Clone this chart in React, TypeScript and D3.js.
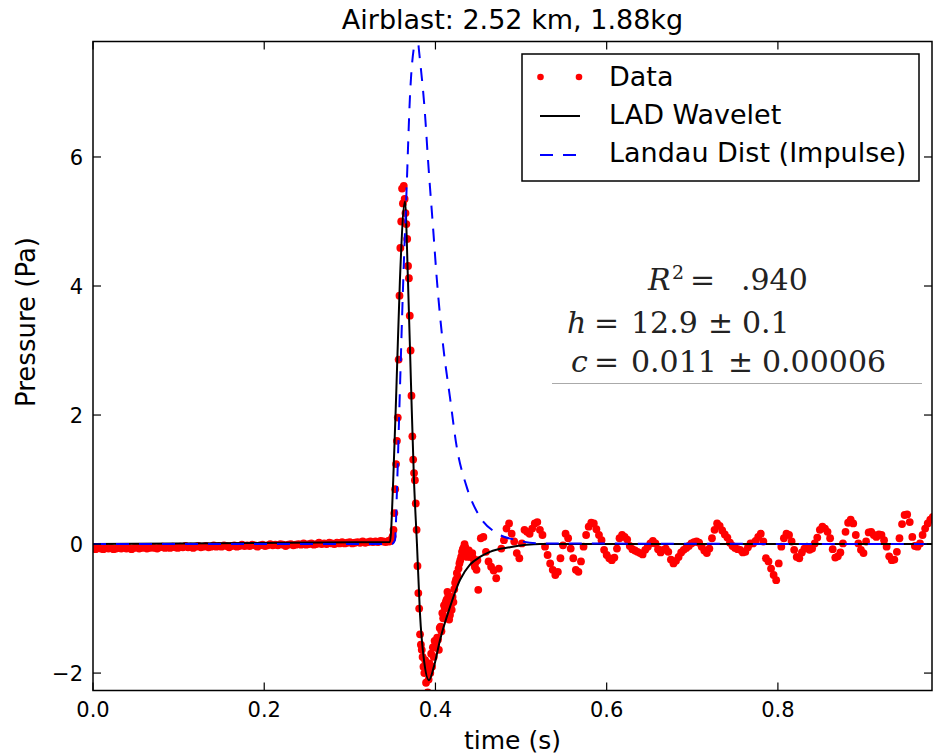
import React from "react";
import * as d3 from "d3";

// ---------- data ----------
const chartTitle = "Airblast: 2.52 km, 1.88kg";
const xLabel = "time (s)";
const yLabel = "Pressure (Pa)";
const xTicks = [0, 0.2, 0.4, 0.6, 0.8];
const yTicks = [-2, 0, 2, 4, 6];
const xDomain = [0, 0.98];
const yDomain = [-2.27, 7.79];

// measured samples: pre-arrival baseline
const baselineStart = 0;
const baselineStep = 0.003;
const baselineValues = [
  -0.07, -0.08, -0.06, -0.07, -0.08, -0.06, -0.07, -0.06, -0.08, -0.07,
  -0.06, -0.07, -0.05, -0.07, -0.06, -0.08, -0.06, -0.05, -0.07, -0.06,
  -0.05, -0.07, -0.06, -0.05, -0.06, -0.07, -0.05, -0.04, -0.06, -0.05,
  -0.06, -0.04, -0.05, -0.06, -0.04, -0.05, -0.03, -0.05, -0.04, -0.06,
  -0.04, -0.03, -0.05, -0.04, -0.03, -0.05, -0.04, -0.02, -0.04, -0.03,
  -0.04, -0.02, -0.03, -0.05, -0.03, -0.02, -0.04, -0.03, -0.01, -0.03,
  -0.02, -0.03, -0.01, -0.02, -0.04, -0.02, -0.01, -0.03, -0.02, 0.0,
  -0.02, -0.01, -0.02, 0.0, -0.01, -0.03, -0.01, 0.0, -0.02, -0.01,
  0.0, -0.01, 0.01, -0.01, 0.0, 0.01, -0.01, 0.0, 0.02, 0.0,
  0.01, 0.0, 0.02, 0.01, 0.0, 0.02, 0.01, 0.03, 0.01, 0.02,
  0.03, 0.01, 0.02, 0.03, 0.02, 0.04, 0.02, 0.03, 0.04, 0.03,
  0.04, 0.03, 0.05, 0.04, 0.03, 0.05,
];

// measured samples: the blast pulse
const pulseStart = 0.346;
const pulseStep = 0.001;
const pulseValues = [
  0.04, 0.05, 0.06, 0.08, 0.12, 0.22, 0.48, 0.85, 1.24, 1.6,
  1.96, 2.86, 3.85, 4.59, 5.0, 5.51, 5.28, 5.55, 5.35, 5.13,
  4.96, 4.73, 4.31, 4.12, 3.54, 3.0, 2.3, 1.67, 1.31, 1.1,
  0.99, 0.63, 0.22, -0.34, -0.76, -1.0, -1.4, -1.56, -1.64, -1.75,
  -1.9, -2.0, -1.8, -2.15, -1.95, -2.3, -2.1, -1.85, -2.0, -1.7,
  -1.9, -1.6, -1.75, -1.5, -1.55, -1.6, -1.45, -1.48, -1.64, -1.3,
  -1.28, -1.35, -1.07, -1.15, -0.95, -1.0, -0.9, -0.86, -0.74, -0.8,
  -1.17, -1.1, -0.95, -1.02, -0.82, -0.9, -0.7, -0.6, -0.55, -0.45,
  -0.5, -0.38, -0.3, -0.25, -0.2, -0.12, -0.08, -0.05, 0.0, -0.05,
  -0.1, -0.2, -0.15, -0.1, -0.14, -0.2, -0.18, -0.14, -0.22, -0.3,
  -0.35, -0.28, -0.4, -0.25,
];

// measured samples: coda / background noise
const codaStart = 0.45;
const codaStep = 0.003;
const codaValues = [
  -0.71, 0.09, 0.11, -0.12, -0.27, -0.35, -0.41, -0.53, -0.38, -0.07,
  0.06, 0.24, 0.32, 0.16, 0.04, -0.14, -0.22, 0.01, 0.22, 0.19,
  0.16, 0.24, 0.32, 0.34, 0.22, 0.14, -0.04, -0.17, -0.3, -0.4,
  -0.48, -0.43, -0.22, -0.02, 0.16, 0.09, -0.07, -0.22, -0.4, -0.43,
  -0.27, -0.04, 0.14, 0.27, 0.33, 0.32, 0.23, 0.14, 0.06, -0.09,
  -0.17, -0.22, -0.25, -0.21, -0.07, 0.09, 0.14, 0.11, 0.07, -0.03,
  -0.08, -0.1, -0.12, -0.14, -0.16, -0.09, -0.04, 0.01, 0.05, 0.01,
  -0.08, -0.13, -0.09, -0.07, -0.12, -0.24, -0.3, -0.26, -0.2, -0.13,
  -0.09, -0.06, -0.03, 0.01, 0.03, 0.04, 0.02, -0.04, -0.1, -0.14,
  -0.07, 0.09, 0.22, 0.32, 0.28, 0.21, 0.15, 0.1, 0.02, -0.03,
  -0.06, -0.08, -0.09, -0.13, -0.12, -0.05, 0.01, 0.01, 0.05, 0.11,
  0.16, 0.04, -0.22, -0.27, -0.38, -0.48, -0.56, -0.3, -0.04, 0.09,
  0.16, 0.14, 0.04, -0.09, -0.2, -0.22, -0.13, -0.07, -0.04, -0.09,
  -0.07, 0.01, 0.1, 0.22, 0.27, 0.24, 0.19, 0.09, -0.08, -0.21,
  -0.19, -0.13, 0.01, 0.19, 0.33, 0.38, 0.32, 0.14, 0.01, -0.09,
  -0.14, 0.04, 0.18, 0.19, 0.14, 0.11, 0.15, 0.14, 0.06, -0.04,
  -0.19, -0.25, -0.24, -0.12, 0.09, 0.31, 0.45, 0.46, 0.34, 0.11,
  -0.03, -0.04, 0.01, 0.14, 0.24, 0.32, 0.38, 0.42,
];

// LAD wavelet fit
const ladTime = [0, 0.3469, 0.3507, 0.3546, 0.3585, 0.3644, 0.3679, 0.3714, 0.3749, 0.3784, 0.3819, 0.3866, 0.3924, 0.3982, 0.4053, 0.4169, 0.4286, 0.4403, 0.452, 0.4636, 0.487, 0.522, 0.98];
const ladPressure = [0, 0.03, 1.0, 2.5, 4.09, 5.31, 4.09, 2.5, 1.0, 0.0, -1.07, -1.8, -2.11, -1.9, -1.49, -0.98, -0.56, -0.32, -0.2, -0.12, -0.05, 0, 0];

// Landau distribution (impulse)
const landauTime = [0, 0.349, 0.3527, 0.3554, 0.3577, 0.3624, 0.3664, 0.3702, 0.3761, 0.3784, 0.3807, 0.3877, 0.3916, 0.3974, 0.4014, 0.4091, 0.4169, 0.4248, 0.4364, 0.452, 0.4715, 0.4948, 0.522, 0.98];
const landauPressure = [0, 0, 0.06, 0.99, 2.03, 4.09, 5.54, 6.93, 7.81, 7.95, 7.66, 6.68, 5.9, 4.87, 4.14, 3.06, 2.28, 1.51, 0.89, 0.42, 0.17, 0.06, 0.01, 0];

const legendLabels = ["Data", "LAD Wavelet", "Landau Dist (Impulse)"];

// ---------- component ----------
export default function App() {
  const left = 93, right = 932, top = 41.5, bottom = 690.5;
  const x = d3.scaleLinear().domain(xDomain).range([left, right]);
  const y = d3.scaleLinear().domain(yDomain).range([bottom, top]);

  const seg = (start: number, step: number, vals: number[]) =>
    vals.map((v, i) => ({ t: start + i * step, p: v }));
  const data = [
    ...seg(baselineStart, baselineStep, baselineValues),
    ...seg(pulseStart, pulseStep, pulseValues),
    ...seg(codaStart, codaStep, codaValues),
  ];

  const line = d3
    .line<[number, number]>()
    .x((d) => x(d[0]))
    .y((d) => y(d[1]))
    .curve(d3.curveMonotoneX);
  const ladPath = line(ladTime.map((t, i) => [t, ladPressure[i]]) as [number, number][]) || "";
  const landauPath = line(landauTime.map((t, i) => [t, landauPressure[i]]) as [number, number][]) || "";

  const fmtX = d3.format(".1f");
  const fmtY = d3.format("d");
  const tickLen = 8;
  const dash = "13,10";

  return (
    <svg
      width={936}
      height={755}
      style={{ position: "absolute", left: 0, top: 0 }}
      fontFamily="DejaVu Sans"
    >
      <rect x={0} y={0} width={936} height={755} fill="#ffffff" />
      <defs>
        <clipPath id="plotClip">
          <rect x={left} y={top} width={right - left} height={bottom - top} />
        </clipPath>
      </defs>

      {/* data + curves */}
      <g clipPath="url(#plotClip)">
        {data.map((d, i) => (
          <circle key={i} cx={x(d.t)} cy={y(d.p)} r={3.9} fill="#ff0000" />
        ))}
        <path d={ladPath} fill="none" stroke="#000000" strokeWidth={2} />
        <path d={landauPath} fill="none" stroke="#0000ff" strokeWidth={2} strokeDasharray={dash} />
      </g>

      {/* frame */}
      <rect x={left} y={top} width={right - left} height={bottom - top} fill="none" stroke="#000" strokeWidth={1.5} />

      {/* x ticks */}
      {xTicks.map((t) => (
        <g key={"xt" + t}>
          <line x1={x(t)} x2={x(t)} y1={bottom} y2={bottom - tickLen} stroke="#000" strokeWidth={1.2} />
          <line x1={x(t)} x2={x(t)} y1={top} y2={top + tickLen} stroke="#000" strokeWidth={1.2} />
          <text x={x(t)} y={717} fontSize={21} textAnchor="middle" fill="#000">
            {fmtX(t)}
          </text>
        </g>
      ))}
      {/* y ticks */}
      {yTicks.map((v) => (
        <g key={"yt" + v}>
          <line x1={left} x2={left + tickLen} y1={y(v)} y2={y(v)} stroke="#000" strokeWidth={1.2} />
          <line x1={right} x2={right - tickLen} y1={y(v)} y2={y(v)} stroke="#000" strokeWidth={1.2} />
          <text x={83} y={y(v)} dy="0.36em" fontSize={21} textAnchor="end" fill="#000">
            {fmtY(v)}
          </text>
        </g>
      ))}

      {/* title and axis labels */}
      <text x={(left + right) / 2} y={29} fontSize={27} textAnchor="middle" fill="#000">
        {chartTitle}
      </text>
      <text x={(left + right) / 2} y={749} fontSize={25} textAnchor="middle" fill="#000">
        {xLabel}
      </text>
      <text
        transform={`translate(35,${(top + bottom) / 2 - 44}) rotate(-90)`}
        fontSize={26}
        textAnchor="middle"
        fill="#000"
      >
        {yLabel}
      </text>

      {/* legend */}
      <g>
        <rect x={522} y={54} width={397} height={127} fill="#fff" stroke="#000" strokeWidth={1.5} />
        <circle cx={540.5} cy={77} r={3.3} fill="#ff0000" />
        <circle cx={579} cy={77} r={3.3} fill="#ff0000" />
        <line x1={540} x2={580} y1={116} y2={116} stroke="#000" strokeWidth={2} />
        <line x1={540} x2={580} y1={155} y2={155} stroke="#0000ff" strokeWidth={2} strokeDasharray={dash} />
        <text x={609} y={86} fontSize={27} fill="#000">{legendLabels[0]}</text>
        <text x={609} y={124} fontSize={27} fill="#000">{legendLabels[1]}</text>
        <text x={609} y={162} fontSize={27} fill="#000">{legendLabels[2]}</text>
      </g>

      {/* fit annotation */}
      <g fontFamily="DejaVu Serif" fontSize={30} fill="#222">
        <text x={648} y={290} fontStyle="italic">R</text>
        <text x={672} y={279} fontSize={19}>2</text>
        <text x={690} y={290}>=</text>
        <text x={741} y={290}>.940</text>

        <text x={567} y={333} fontStyle="italic">h</text>
        <text x={594} y={333}>=</text>
        <text x={631} y={333}>12.9</text>
        <text x={708} y={333}>±</text>
        <text x={742} y={333}>0.1</text>

        <text x={571} y={372} fontStyle="italic">c</text>
        <text x={594} y={372}>=</text>
        <text x={631} y={372}>0.011</text>
        <text x={728} y={372}>±</text>
        <text x={762} y={372}>0.00006</text>
      </g>
      <line x1={552} x2={922} y1={383.5} y2={383.5} stroke="#aaaaaa" strokeWidth={1} />
    </svg>
  );
}
